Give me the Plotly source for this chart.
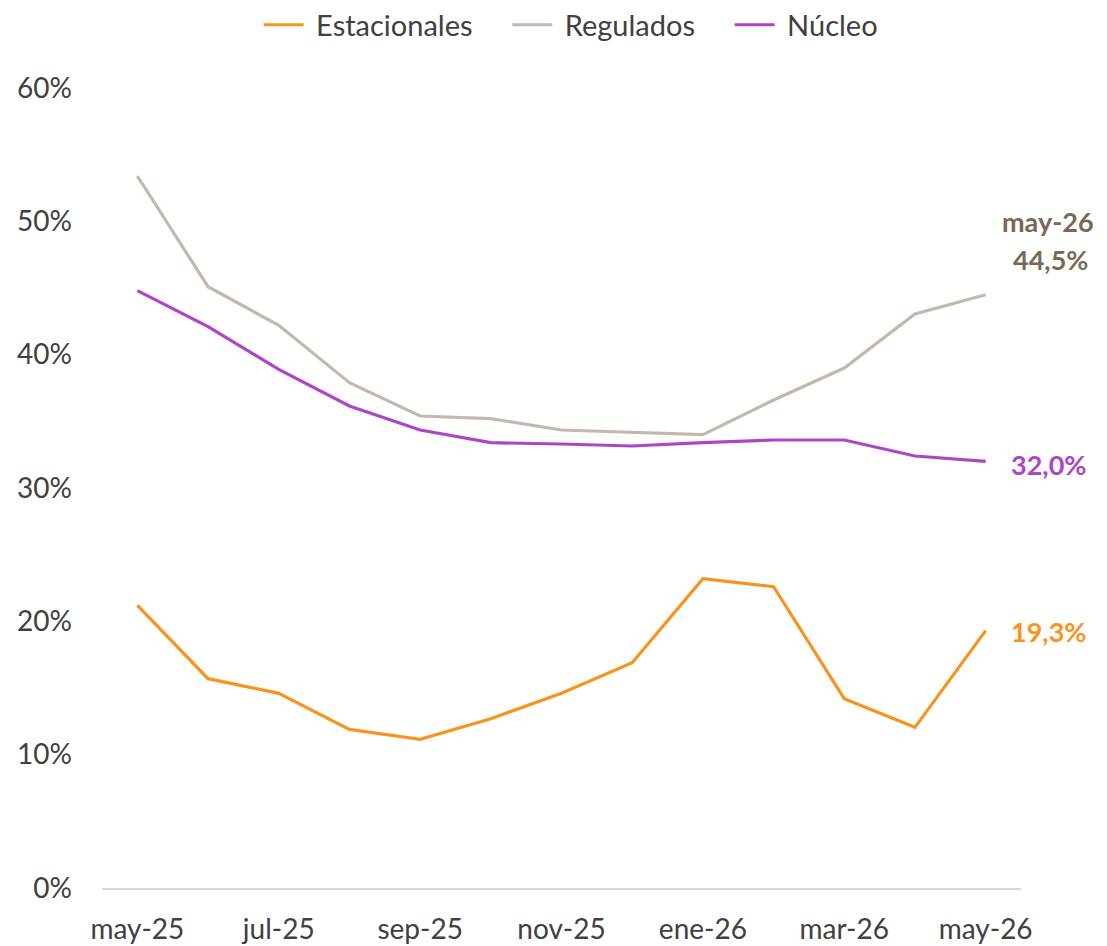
import plotly.graph_objects as go

months = ["may-25", "jun-25", "jul-25", "ago-25", "sep-25", "oct-25", "nov-25",
          "dic-25", "ene-26", "feb-26", "mar-26", "abr-26", "may-26"]
estacionales = [21.2, 15.7, 14.6, 11.9, 11.15, 12.7, 14.6, 16.9, 23.2, 22.6, 14.2, 12.05, 19.3]
regulados = [53.4, 45.1, 42.2, 37.9, 35.4, 35.2, 34.35, 34.2, 34.0, 36.6, 39.0, 43.05, 44.5]
nucleo = [44.8, 42.1, 38.9, 36.15, 34.35, 33.4, 33.3, 33.15, 33.4, 33.6, 33.6, 32.4, 32.0]
tick_labels = months[::2]
y_ticks = [0, 10, 20, 30, 40, 50, 60]

c_est = "#F7941D"
c_reg = "#C4B8AE"
c_nuc = "#AE45C6"
c_brown = "#7A6857"
font_family = "Lato, 'Open Sans', sans-serif"
nb = "\u00a0"

fig = go.Figure()
series = [("Estacionales", estacionales, c_est),
          ("Regulados", regulados, c_reg),
          ("Núcleo", nucleo, c_nuc)]
for i, (name, vals, col) in enumerate(series):
    label = nb + name + (nb * 4 if i < len(series) - 1 else "")
    fig.add_trace(go.Scatter(x=months, y=vals, name=label, mode="lines",
                             line=dict(color=col, width=3.2)))

def fmt(v):
    return f"{v:.1f}%".replace(".", ",")

fig.add_annotation(x=months[-1], y=regulados[-1], xref="x", yref="y",
                   text="<b>" + months[-1] + "</b>", showarrow=False,
                   xshift=62, yshift=73, font=dict(size=27, color=c_brown, family=font_family))
fig.add_annotation(x=months[-1], y=regulados[-1], xref="x", yref="y",
                   text="<b>" + fmt(regulados[-1]) + "</b>", showarrow=False,
                   xshift=65, yshift=35, font=dict(size=27, color=c_brown, family=font_family))
fig.add_annotation(x=months[-1], y=nucleo[-1], xref="x", yref="y",
                   text="<b>" + fmt(nucleo[-1]) + "</b>", showarrow=False,
                   xshift=63, yshift=-3, font=dict(size=27, color=c_nuc, family=font_family))
fig.add_annotation(x=months[-1], y=estacionales[-1], xref="x", yref="y",
                   text="<b>" + fmt(estacionales[-1]) + "</b>", showarrow=False,
                   xshift=63, yshift=-1, font=dict(size=27, color=c_est, family=font_family))

fig.update_layout(
    width=1099, height=938,
    margin=dict(l=94, r=86, t=80, b=58),
    paper_bgcolor="white", plot_bgcolor="white",
    font=dict(family=font_family, size=29, color="#404040"),
    showlegend=True,
    legend=dict(orientation="h", x=0.512, xanchor="center", xref="container",
                y=0.982, yanchor="middle", yref="container",
                font=dict(size=29, color="#404040"), itemwidth=40, tracegroupgap=0),
)
fig.update_xaxes(type="category", range=[-0.5, 12.5], tickmode="array",
                 tickvals=tick_labels, ticktext=tick_labels, showgrid=False,
                 showline=True, linecolor="#D9D9D9", linewidth=1.5, ticks="",
                 ticklabelstandoff=16, automargin=False,
                 tickfont=dict(size=28, color="#404040"), zeroline=False)
fig.update_yaxes(range=[0, 60], tickmode="array", tickvals=y_ticks,
                 ticktext=[f"{v}%" for v in y_ticks], showgrid=False, zeroline=False,
                 showline=False, ticks="", ticklabelstandoff=29, automargin=False,
                 tickfont=dict(size=28, color="#404040"))

fig.write_html("out.html")
